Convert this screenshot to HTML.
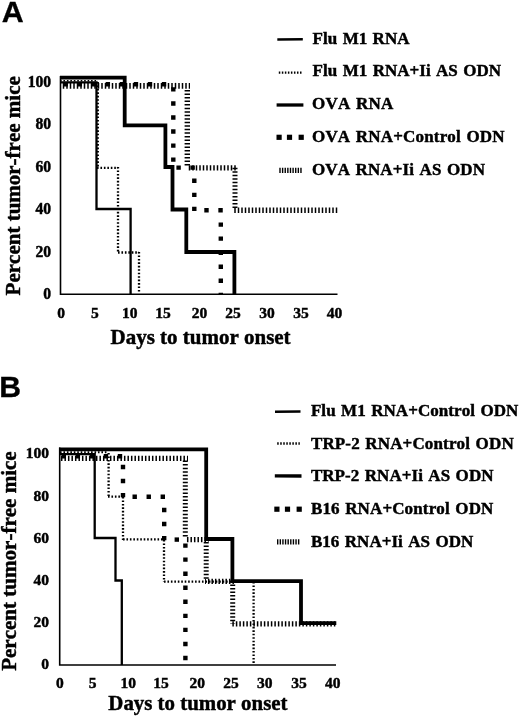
<!DOCTYPE html>
<html lang="en"><head><meta charset="utf-8"><title>Figure</title>
<style>html,body{margin:0;padding:0;background:#fff}svg{display:block}.s{font-family:"Liberation Serif", "DejaVu Serif", serif;font-weight:bold;fill:#000;stroke:#000;stroke-width:.45px;font-kerning:none}.h{font-family:"Liberation Sans", "DejaVu Sans", sans-serif;font-weight:bold;fill:#000;stroke:#000;stroke-width:.3px}.l{fill:none;stroke:#000}</style></head><body>
<svg width="520" height="717" viewBox="0 0 520 717">
<rect width="520" height="717" fill="#fff"/>
<text class="h" x="1.7" y="22.4" font-size="30.4" text-anchor="start">A</text>
<path class="l" d="M60.5,76 V294.2 H337.5" stroke-width="1.6"/>
<text class="s" transform="translate(51.1 87.4) scale(1 1.1)" font-size="15.6" text-anchor="end">100</text>
<text class="s" transform="translate(51.1 129.4) scale(1 1.1)" font-size="15.6" text-anchor="end">80</text>
<text class="s" transform="translate(51.1 171.9) scale(1 1.1)" font-size="15.6" text-anchor="end">60</text>
<text class="s" transform="translate(51.1 214.3) scale(1 1.1)" font-size="15.6" text-anchor="end">40</text>
<text class="s" transform="translate(51.1 256.7) scale(1 1.1)" font-size="15.6" text-anchor="end">20</text>
<text class="s" transform="translate(51.1 298.5) scale(1 1.1)" font-size="15.6" text-anchor="end">0</text>
<text class="s" x="61" y="318" font-size="15.5" text-anchor="middle">0</text>
<text class="s" x="94.8" y="318" font-size="15.5" text-anchor="middle">5</text>
<text class="s" x="129.8" y="318" font-size="15.5" text-anchor="middle">10</text>
<text class="s" x="163" y="318" font-size="15.5" text-anchor="middle">15</text>
<text class="s" x="199.6" y="318" font-size="15.5" text-anchor="middle">20</text>
<text class="s" x="233.1" y="318" font-size="15.5" text-anchor="middle">25</text>
<text class="s" x="267" y="318" font-size="15.5" text-anchor="middle">30</text>
<text class="s" x="301.1" y="318" font-size="15.5" text-anchor="middle">35</text>
<text class="s" x="334.5" y="318" font-size="15.5" text-anchor="middle">40</text>
<text class="s" x="20.3" y="295.4" font-size="21" text-anchor="start" transform="rotate(-90 20.3 295.4)" textLength="219.2" lengthAdjust="spacingAndGlyphs">Percent tumor-free mice</text>
<text class="s" x="110.6" y="343.6" font-size="21" text-anchor="start" textLength="180" lengthAdjust="spacingAndGlyphs">Days to tumor onset</text>
<line class="l" x1="61" y1="85.9" x2="190" y2="85.9" stroke-width="5.6" stroke-dasharray="1.5 2.0" stroke-dashoffset="1.75"/>
<line class="l" x1="187.3" y1="88.5" x2="187.3" y2="166" stroke-width="5.4" stroke-dasharray="1.5 2.03" stroke-dashoffset="2.04"/>
<line class="l" x1="187" y1="167.9" x2="237.6" y2="167.9" stroke-width="5.2" stroke-dasharray="1.5 2.0" stroke-dashoffset="1.75"/>
<line class="l" x1="235" y1="167" x2="235" y2="208.5" stroke-width="5.0" stroke-dasharray="1.5 2.03" stroke-dashoffset="2.88"/>
<line class="l" x1="232.5" y1="210.2" x2="337.6" y2="210.2" stroke-width="5.4" stroke-dasharray="1.5 2.0" stroke-dashoffset="1.75"/>
<line class="l" x1="63.5" y1="84.3" x2="176" y2="84.3" stroke-width="4.4" stroke-dasharray="4.4 9.65"/>
<line class="l" x1="173.3" y1="87.2" x2="173.3" y2="166" stroke-width="4.4" stroke-dasharray="4.4 9.65"/>
<line class="l" x1="176.4" y1="167.6" x2="196" y2="167.6" stroke-width="4.4" stroke-dasharray="4.4 9.65"/>
<line class="l" x1="194.3" y1="178.6" x2="194.3" y2="212" stroke-width="4.4" stroke-dasharray="4.4 9.65"/>
<line class="l" x1="204.3" y1="210.3" x2="223" y2="210.3" stroke-width="4.4" stroke-dasharray="4.4 9.65"/>
<line class="l" x1="220.8" y1="222.4" x2="220.8" y2="294" stroke-width="4.4" stroke-dasharray="4.4 9.65"/>
<polyline class="l" points="60,82.4 96.5,82.4 96.5,209 130.6,209 130.6,294" stroke-width="2.3" stroke-linejoin="miter"/>
<line class="l" x1="60" y1="80.7" x2="98" y2="80.7" stroke-width="1.6" stroke-dasharray="1.6 1.85"/>
<line class="l" x1="97.8" y1="82" x2="97.8" y2="167" stroke-width="2.3" stroke-dasharray="1.6 1.85"/>
<line class="l" x1="97" y1="167.8" x2="118" y2="167.8" stroke-width="2.3" stroke-dasharray="1.6 1.85"/>
<line class="l" x1="118" y1="167" x2="118" y2="252.5" stroke-width="2.3" stroke-dasharray="1.6 1.85"/>
<line class="l" x1="118" y1="252.5" x2="139" y2="252.5" stroke-width="2.3" stroke-dasharray="1.6 1.85"/>
<line class="l" x1="139" y1="252" x2="139" y2="292" stroke-width="2.3" stroke-dasharray="1.6 1.85"/>
<polyline class="l" points="60,77.7 124.7,77.7 124.7,125.4 165.4,125.4 165.4,167 172.5,167 172.5,209.5 186.3,209.5 186.3,252 234.4,252 234.4,294.5" stroke-width="3.8" stroke-linejoin="miter"/>
<text class="s" x="312.6" y="43.7" font-size="17.0" style="word-spacing:1.1px" textLength="96.9" lengthAdjust="spacing">Flu M1 RNA</text>
<text class="s" x="312.6" y="76" font-size="17.0" style="word-spacing:1.1px" textLength="188.5" lengthAdjust="spacing">Flu M1 RNA+Ii AS ODN</text>
<text class="s" x="312" y="109.1" font-size="17.0" style="word-spacing:1.1px" textLength="81.2" lengthAdjust="spacing">OVA RNA</text>
<text class="s" x="312" y="142" font-size="17.0" style="word-spacing:1.1px" textLength="192.6" lengthAdjust="spacing">OVA RNA+Control ODN</text>
<text class="s" x="312" y="174.8" font-size="17.0" style="word-spacing:1.1px" textLength="173.0" lengthAdjust="spacing">OVA RNA+Ii AS ODN</text>
<line class="l" x1="277.3" y1="39.5" x2="302.8" y2="39.3" stroke-width="2.5"/>
<line class="l" x1="278.8" y1="72.6" x2="301.8" y2="72.6" stroke-width="2.3" stroke-dasharray="1.5 1.53"/>
<line class="l" x1="276.6" y1="105" x2="303.4" y2="105" stroke-width="3.3"/>
<rect x="276.5" y="134.7" width="5.2" height="5.2"/>
<rect x="286.9" y="134.7" width="5.2" height="5.2"/>
<rect x="298.6" y="134.7" width="5.2" height="5.2"/>
<line class="l" x1="279.3" y1="170.4" x2="301.7" y2="170.4" stroke-width="5.2" stroke-dasharray="1.4 1.22"/>
<text class="h" x="-0.7" y="397.3" font-size="30.2" text-anchor="start">B</text>
<path class="l" d="M59.7,447.5 V665 H336" stroke-width="1.6"/>
<text class="s" x="48.9" y="458.4" font-size="15.5" text-anchor="end">100</text>
<text class="s" x="48.9" y="500.6" font-size="15.5" text-anchor="end">80</text>
<text class="s" x="48.9" y="542.6" font-size="15.5" text-anchor="end">60</text>
<text class="s" x="48.9" y="584.7" font-size="15.5" text-anchor="end">40</text>
<text class="s" x="48.9" y="626.7" font-size="15.5" text-anchor="end">20</text>
<text class="s" x="48.9" y="668.8" font-size="15.5" text-anchor="end">0</text>
<text class="s" x="59.8" y="687.6" font-size="15.5" text-anchor="middle">0</text>
<text class="s" x="92.5" y="687.6" font-size="15.5" text-anchor="middle">5</text>
<text class="s" x="128.2" y="687.6" font-size="15.5" text-anchor="middle">10</text>
<text class="s" x="161" y="687.6" font-size="15.5" text-anchor="middle">15</text>
<text class="s" x="197.2" y="687.6" font-size="15.5" text-anchor="middle">20</text>
<text class="s" x="231" y="687.6" font-size="15.5" text-anchor="middle">25</text>
<text class="s" x="264.7" y="687.6" font-size="15.5" text-anchor="middle">30</text>
<text class="s" x="299" y="687.6" font-size="15.5" text-anchor="middle">35</text>
<text class="s" x="332.8" y="687.6" font-size="15.5" text-anchor="middle">40</text>
<text class="s" x="15.7" y="670.8" font-size="21" text-anchor="start" transform="rotate(-90 15.7 670.8)" textLength="219.5" lengthAdjust="spacingAndGlyphs">Percent tumor-free mice</text>
<text class="s" x="108.3" y="709.6" font-size="21" text-anchor="start" textLength="179.2" lengthAdjust="spacingAndGlyphs">Days to tumor onset</text>
<line class="l" x1="60.5" y1="458.3" x2="188" y2="458.3" stroke-width="5.2" stroke-dasharray="1.5 2.0" stroke-dashoffset="3.05"/>
<line class="l" x1="185.3" y1="460" x2="185.3" y2="538.5" stroke-width="5.0" stroke-dasharray="1.5 2.04" stroke-dashoffset="2.99"/>
<line class="l" x1="186" y1="539.6" x2="208.6" y2="539.6" stroke-width="5.2" stroke-dasharray="1.5 2.0" stroke-dashoffset="2.55"/>
<line class="l" x1="206.2" y1="541" x2="206.2" y2="580.5" stroke-width="5.0" stroke-dasharray="1.5 2.04" stroke-dashoffset="2.57"/>
<line class="l" x1="205" y1="581.4" x2="235" y2="581.4" stroke-width="5.2" stroke-dasharray="1.5 2.0" stroke-dashoffset="0.55"/>
<line class="l" x1="232.7" y1="583" x2="232.7" y2="624" stroke-width="5.0" stroke-dasharray="1.5 2.04" stroke-dashoffset="2.09"/>
<line class="l" x1="230.5" y1="623.9" x2="336.4" y2="623.9" stroke-width="5.2" stroke-dasharray="1.5 2.0" stroke-dashoffset="1.65"/>
<line class="l" x1="61.6" y1="456.3" x2="125" y2="456.3" stroke-width="4.4" stroke-dasharray="4.4 9.65"/>
<line class="l" x1="123" y1="464.8" x2="123" y2="499" stroke-width="4.4" stroke-dasharray="4.4 9.65"/>
<line class="l" x1="132.5" y1="496.8" x2="166" y2="496.8" stroke-width="4.4" stroke-dasharray="4.4 9.65"/>
<line class="l" x1="164.2" y1="507.8" x2="164.2" y2="541" stroke-width="4.4" stroke-dasharray="4.4 9.65"/>
<line class="l" x1="174.6" y1="539.6" x2="188" y2="539.6" stroke-width="4.4" stroke-dasharray="4.4 9.65"/>
<line class="l" x1="185.4" y1="543.4" x2="185.4" y2="662" stroke-width="4.4" stroke-dasharray="4.4 9.65"/>
<polyline class="l" points="60,454.2 94.7,454.2 94.7,538 115.5,538 115.5,580.5 121.8,580.5 121.8,665" stroke-width="2.3" stroke-linejoin="miter"/>
<line class="l" x1="60" y1="452.3" x2="108" y2="452.3" stroke-width="1.9" stroke-dasharray="1.6 1.85"/>
<line class="l" x1="108.6" y1="453" x2="108.6" y2="497" stroke-width="2.3" stroke-dasharray="1.6 1.85"/>
<line class="l" x1="108" y1="496.6" x2="123" y2="496.6" stroke-width="2.3" stroke-dasharray="1.6 1.85"/>
<line class="l" x1="123" y1="497" x2="123" y2="540" stroke-width="2.3" stroke-dasharray="1.6 1.85"/>
<line class="l" x1="123" y1="539.4" x2="164" y2="539.4" stroke-width="2.3" stroke-dasharray="1.6 1.85"/>
<line class="l" x1="164" y1="540" x2="164" y2="582" stroke-width="2.3" stroke-dasharray="1.6 1.85"/>
<line class="l" x1="164" y1="581.6" x2="254" y2="581.6" stroke-width="2.3" stroke-dasharray="1.6 1.85"/>
<line class="l" x1="253.6" y1="582" x2="253.6" y2="664" stroke-width="2.3" stroke-dasharray="1.6 1.85"/>
<polyline class="l" points="59,449.4 206.2,449.4 206.2,539 232.4,539 232.4,581.2 301,581.2 301,623.2 336.3,623.2" stroke-width="3.8" stroke-linejoin="miter"/>
<text class="s" x="310.9" y="415.7" font-size="17.0" style="word-spacing:1.1px" textLength="207.4" lengthAdjust="spacing">Flu M1 RNA+Control ODN</text>
<text class="s" x="310.9" y="449.0" font-size="17.0" style="word-spacing:1.1px" textLength="202.8" lengthAdjust="spacing">TRP-2 RNA+Control ODN</text>
<text class="s" x="310.9" y="481.4" font-size="17.0" style="word-spacing:1.1px" textLength="182.6" lengthAdjust="spacing">TRP-2 RNA+Ii AS ODN</text>
<text class="s" x="310.9" y="514.3" font-size="17.0" style="word-spacing:1.1px" textLength="182.5" lengthAdjust="spacing">B16 RNA+Control ODN</text>
<text class="s" x="310.9" y="547.0" font-size="17.0" style="word-spacing:1.1px" textLength="162.5" lengthAdjust="spacing">B16 RNA+Ii AS ODN</text>
<line class="l" x1="275" y1="411.8" x2="300.5" y2="411.5" stroke-width="2.5"/>
<line class="l" x1="277.2" y1="443.5" x2="299.8" y2="443.5" stroke-width="2.3" stroke-dasharray="1.5 1.53"/>
<line class="l" x1="274.8" y1="475.8" x2="301.5" y2="476" stroke-width="3.3"/>
<rect x="274.3" y="506.6" width="5.2" height="5.2"/>
<rect x="284.9" y="506.6" width="5.2" height="5.2"/>
<rect x="296.6" y="506.6" width="5.2" height="5.2"/>
<line class="l" x1="277" y1="541.9" x2="299.5" y2="541.9" stroke-width="5.2" stroke-dasharray="1.4 1.22"/>
</svg></body></html>
